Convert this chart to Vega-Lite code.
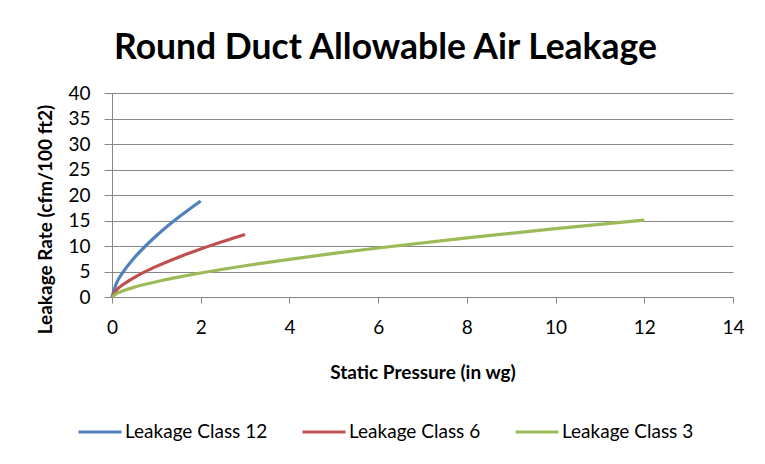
{
  "$schema": "https://vega.github.io/schema/vega-lite/v6.json",
  "width": 621,
  "height": 204,
  "autosize": {"type": "none"},
  "padding": {"left": 112, "top": 93, "right": 32, "bottom": 167},
  "background": "white",
  "title": {
    "text": "Round Duct Allowable Air Leakage",
    "font": "Lato",
    "fontSize": 35.5,
    "fontWeight": "bold",
    "color": "#000000",
    "anchor": "middle",
    "dx": -37,
    "dy": 41,
    "baseline": "alphabetic",
    "offset": 31
  },
  "config": {
    "view": {"stroke": null},
    "font": "Lato",
    "axis": {
      "labelFont": "Lato",
      "labelFontSize": 19,
      "labelColor": "#000000",
      "titleFont": "Lato",
      "titleFontSize": 19,
      "titleFontWeight": "bold",
      "titleColor": "#000000",
      "gridColor": "#878787",
      "gridWidth": 1,
      "domainColor": "#878787",
      "tickColor": "#878787"
    }
  },
  "data": {
    "values": [
      {"p": 0, "rate": 0, "series": "Leakage Class 12"},
      {"p": 0.1, "rate": 2.69, "series": "Leakage Class 12"},
      {"p": 0.25, "rate": 4.87, "series": "Leakage Class 12"},
      {"p": 0.5, "rate": 7.65, "series": "Leakage Class 12"},
      {"p": 0.75, "rate": 9.95, "series": "Leakage Class 12"},
      {"p": 1, "rate": 12.0, "series": "Leakage Class 12"},
      {"p": 1.5, "rate": 15.62, "series": "Leakage Class 12"},
      {"p": 2, "rate": 18.83, "series": "Leakage Class 12"},
      {"p": 0, "rate": 0, "series": "Leakage Class 6"},
      {"p": 0.1, "rate": 1.34, "series": "Leakage Class 6"},
      {"p": 0.25, "rate": 2.44, "series": "Leakage Class 6"},
      {"p": 0.5, "rate": 3.82, "series": "Leakage Class 6"},
      {"p": 0.75, "rate": 4.98, "series": "Leakage Class 6"},
      {"p": 1, "rate": 6.0, "series": "Leakage Class 6"},
      {"p": 1.5, "rate": 7.81, "series": "Leakage Class 6"},
      {"p": 2, "rate": 9.42, "series": "Leakage Class 6"},
      {"p": 2.5, "rate": 10.88, "series": "Leakage Class 6"},
      {"p": 3, "rate": 12.25, "series": "Leakage Class 6"},
      {"p": 0, "rate": 0, "series": "Leakage Class 3"},
      {"p": 0.1, "rate": 0.67, "series": "Leakage Class 3"},
      {"p": 0.25, "rate": 1.22, "series": "Leakage Class 3"},
      {"p": 0.5, "rate": 1.91, "series": "Leakage Class 3"},
      {"p": 0.75, "rate": 2.49, "series": "Leakage Class 3"},
      {"p": 1, "rate": 3.0, "series": "Leakage Class 3"},
      {"p": 1.5, "rate": 3.9, "series": "Leakage Class 3"},
      {"p": 2, "rate": 4.71, "series": "Leakage Class 3"},
      {"p": 2.5, "rate": 5.44, "series": "Leakage Class 3"},
      {"p": 3, "rate": 6.13, "series": "Leakage Class 3"},
      {"p": 4, "rate": 7.39, "series": "Leakage Class 3"},
      {"p": 5, "rate": 8.54, "series": "Leakage Class 3"},
      {"p": 6, "rate": 9.61, "series": "Leakage Class 3"},
      {"p": 8, "rate": 11.59, "series": "Leakage Class 3"},
      {"p": 10, "rate": 13.4, "series": "Leakage Class 3"},
      {"p": 12, "rate": 15.09, "series": "Leakage Class 3"}
    ]
  },
  "mark": {"type": "line", "strokeWidth": 3.2, "interpolate": "monotone"},
  "encoding": {
    "x": {
      "field": "p",
      "type": "quantitative",
      "scale": {"domain": [0, 14], "nice": false},
      "axis": {
        "title": "Static Pressure (in wg)",
        "values": [0, 2, 4, 6, 8, 10, 12, 14],
        "grid": false,
        "tickSize": 6,
        "labelPadding": 15,
        "labelFlush": false,
        "titleY": 75,
        "titleBaseline": "middle"
      }
    },
    "y": {
      "field": "rate",
      "type": "quantitative",
      "scale": {"domain": [0, 40], "nice": false},
      "axis": {
        "title": "Leakage Rate (cfm/100 ft2)",
        "values": [0, 5, 10, 15, 20, 25, 30, 35, 40],
        "grid": true,
        "tickSize": 8,
        "labelPadding": 14,
        "titleX": -67,
        "titleY": 126,
        "titleBaseline": "middle"
      }
    },
    "color": {
      "field": "series",
      "type": "nominal",
      "sort": ["Leakage Class 12", "Leakage Class 6", "Leakage Class 3"],
      "scale": {
        "domain": ["Leakage Class 12", "Leakage Class 6", "Leakage Class 3"],
        "range": ["#4F81BD", "#C0504D", "#9BBB59"]
      },
      "legend": {
        "title": null,
        "orient": "none",
        "direction": "horizontal",
        "legendX": -35,
        "legendY": 316,
        "symbolType": "stroke",
        "symbolSize": 1849,
        "symbolStrokeWidth": 3,
        "labelFont": "Lato",
        "labelFontSize": 19,
        "labelColor": "#000000",
        "labelOffset": 2,
        "columnPadding": 28,
        "labelLimit": 300
      }
    }
  }
}
